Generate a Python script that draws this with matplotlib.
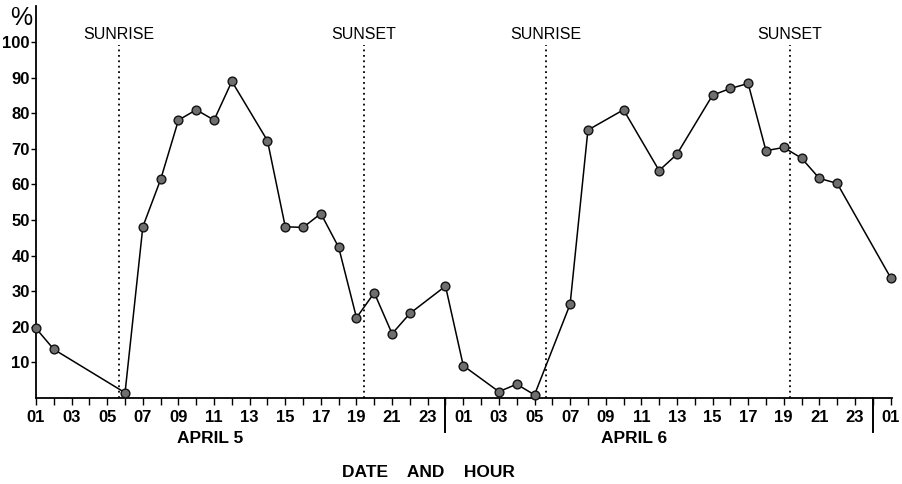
import matplotlib.pyplot as plt
import matplotlib.transforms as mtransforms
import numpy as np

# relative humidity readings, hour of day -> percent
apr5_hours = [1, 2, 6, 7, 8, 9, 10, 11, 12, 14, 15, 16, 17, 18, 19, 20, 21, 22, 24]
apr5_values = [19.5, 13.6, 1.4, 48.1, 61.4, 78.1, 81.0, 78.1, 89.0, 72.3,
               48.1, 47.9, 51.8, 42.3, 22.5, 29.5, 18.0, 23.7, 31.4]
apr6_hours = [1, 3, 4, 5, 7, 8, 10, 12, 13, 15, 16, 17, 18, 19, 20, 21, 22]
apr6_values = [9.0, 1.7, 3.8, 0.8, 26.3, 75.3, 81.0, 63.9, 68.5, 85.1,
               87.0, 88.4, 69.5, 70.4, 67.4, 61.7, 60.3]
apr7_hours = [1]
apr7_values = [33.8]

sunrise_hours = [5.65, 29.65]
sunset_hours = [19.4, 43.35]
day_breaks = [24, 48]
day_labels = ["APRIL 5", "APRIL 6"]
day_label_hours = [10.8, 34.6]

y_ticks = [10, 20, 30, 40, 50, 60, 70, 80, 90, 100]

# run the three days together on one hour axis
x = np.concatenate([apr5_hours, np.array(apr6_hours) + 24, np.array(apr7_hours) + 48])
y = np.concatenate([apr5_values, apr6_values, apr7_values])

tick_font = {"family": ["Liberation Sans", "DejaVu Sans"], "weight": "bold", "size": 12}
label_font = {"family": ["Liberation Sans", "DejaVu Sans"], "weight": "bold", "size": 12.5}

fig = plt.figure(figsize=(9.03, 4.84), dpi=100)
ax = fig.add_axes([0.0399, 0.1783, 0.9483, 0.8093])

ax.plot(x, y, color="black", lw=1.1, marker="o", ms=6.3, mfc="#6e6e6e",
        mec="#111111", mew=1.0, clip_on=False, zorder=3)

for h in sunrise_hours:
    ax.plot([h, h], [0, 99.3], color="black", lw=1.3, ls=(0, (1, 2)))
    ax.text(h, 102.3, "SUNRISE", ha="center", va="center",
            family=["Liberation Sans", "DejaVu Sans"], fontsize=11.5)
for h in sunset_hours:
    ax.plot([h, h], [0, 99.3], color="black", lw=1.3, ls=(0, (1, 2)))
    ax.text(h, 102.3, "SUNSET", ha="center", va="center",
            family=["Liberation Sans", "DejaVu Sans"], fontsize=11.5)

# day separators hanging under the axis
below = mtransforms.blended_transform_factory(ax.transData, ax.transAxes)
for h in day_breaks:
    ax.plot([h, h], [0, -0.088], color="black", lw=1.4, transform=below, clip_on=False)

day_tr = mtransforms.blended_transform_factory(ax.transData, fig.transFigure)
for h, lab in zip(day_label_hours, day_labels):
    ax.text(h, 0.095, lab, transform=day_tr, ha="center", va="center", **label_font)

fig.text(0.474, 0.024, "DATE    AND    HOUR", ha="center", va="center", **label_font)
fig.text(0.023, 0.962, "%", ha="center", va="center",
         family=["Liberation Sans", "DejaVu Sans"], fontsize=18)

ax.set_xlim(1, 49.1)
ax.set_ylim(0, 110.2)

hours = list(range(1, 50))
xlabels = []
for h in hours:
    hod = (h - 1) % 24 + 1
    xlabels.append("%02d" % hod if hod % 2 == 1 else "")
ax.set_xticks(hours)
ax.set_xticklabels(xlabels, fontdict=tick_font)
ax.set_yticks(y_ticks)
ax.set_yticklabels([str(v) for v in y_ticks], fontdict=tick_font)

ax.tick_params(axis="x", direction="out", length=5, width=1.0, pad=4)
ax.tick_params(axis="y", direction="out", length=3.5, width=1.0, pad=1)

for side in ["top", "right"]:
    ax.spines[side].set_visible(False)
for side in ["left", "bottom"]:
    ax.spines[side].set_linewidth(1.3)

fig.savefig("out.png", dpi=100)
